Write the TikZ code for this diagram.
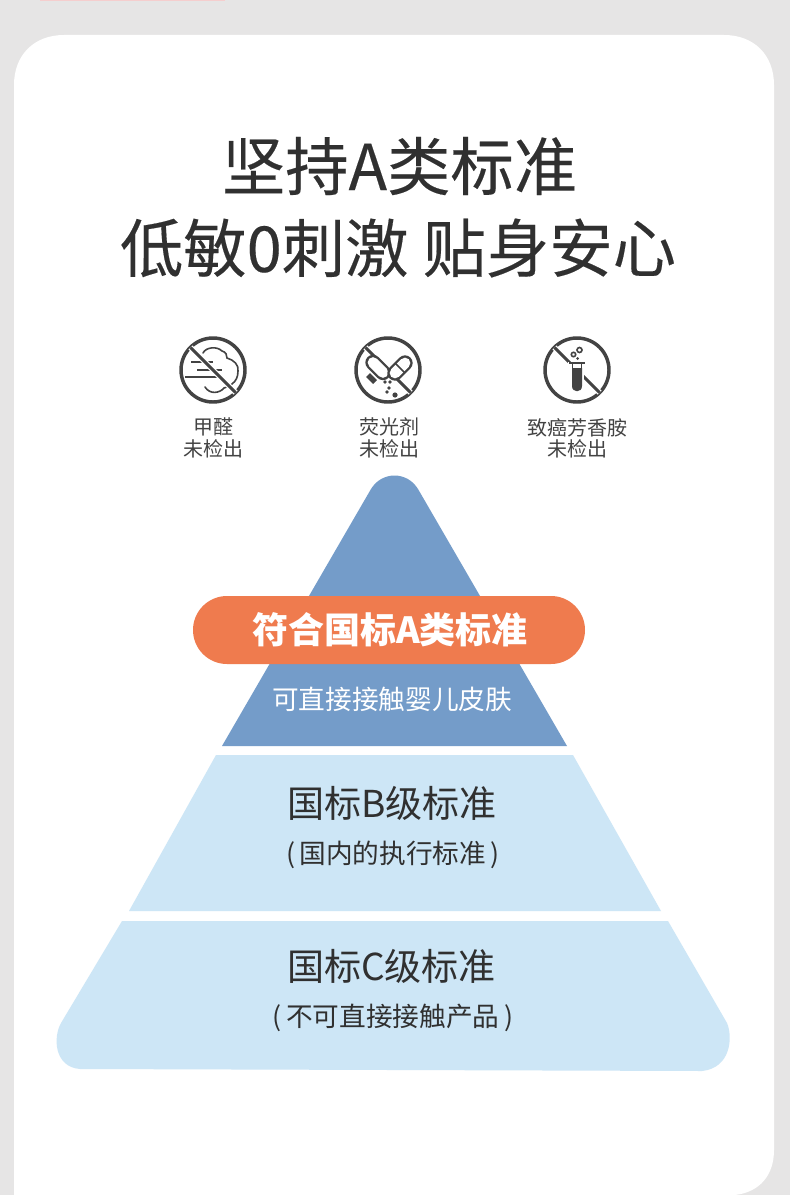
\documentclass[tikz,border=0pt]{standalone}
\usepackage{fontspec}
\setmainfont{Noto Sans CJK SC}
\definecolor{pagegray}{HTML}{E6E5E5}
\definecolor{inkgray}{HTML}{303030}
\definecolor{icongray}{HTML}{434343}
\definecolor{topblue}{HTML}{749CC9}
\definecolor{paleblue}{HTML}{CDE6F6}
\definecolor{pillorange}{HTML}{EF7B4E}
\tikzstyle{every node}=[inner sep=0pt,outer sep=0pt,text=inkgray,align=center]
\tikzstyle{headline}=[font=\fontsize{47.5}{50}\selectfont\addfontfeature{FakeBold=0.25}]
\tikzstyle{caption}=[font=\fontsize{15}{15}\selectfont,text=icongray]
\tikzstyle{tiertitle}=[font=\fontsize{27.8}{30}\selectfont]
\tikzstyle{tiernote}=[font=\fontsize{20}{22}\selectfont]
\tikzstyle{iconring}=[draw=icongray,line width=2.6pt,shape=circle,minimum size=48pt]
\tikzstyle{iconline}=[draw=icongray,line width=1.2pt]
\tikzstyle{iconslash}=[draw=icongray,line width=2.2pt,preaction={draw=white,line width=4pt}]

\begin{document}
\begin{tikzpicture}[x=0.75pt,y=-0.75pt]
	\fill[pagegray] (0,0) rectangle (790,1195);
	\fill[pink!60!pagegray] (40,0) rectangle (225,1.5);
	\fill[white] (14,1195) -- (14,85) .. controls (14,55) and (34,35) .. (64,35) -- (724,35) .. controls (754,35) and (774,55) .. (774,85) -- (774,1150) .. controls (774,1175) and (760,1192) .. (735,1195) -- cycle;

	\node (title1) [headline] at (399.5,166) {坚持A类标准};
	\node (title2) [headline] at (398,248) {低敏0刺激 贴身安心};

	\node (ring1) [iconring] at (213,370) {};
	\node (ring2) [iconring] at (388,370) {};
	\node (ring3) [iconring] at (577,370) {};

	\draw[iconline,line cap=round] (203,353) .. controls (206,347) and (217,346) .. (222,351) .. controls (226,352) and (227,355) .. (227,358) .. controls (234,360) and (239,365) .. (238,371) .. controls (238,377) and (236,381) .. (232,384) .. controls (229,387) and (226,387) .. (224,388) .. controls (220,393) and (210,395) .. (205,387);
	\draw[iconline] (191,362) -- (213,362) (197,370) -- (222,370) (185,377) -- (222,377);
	\draw[iconslash] (ring1.135) -- (ring1.-45);

	\draw[iconslash] (ring2.135) -- (ring2.-45);
	\draw[icongray,line width=11.5pt,line cap=round] (373,362.5) -- (383,372.5);
	\draw[white,line width=8pt,line cap=round] (373,362.5) -- (383,372.5);
	\draw[icongray,line width=11.5pt,line cap=round] (395,373) -- (405,363);
	\draw[white,line width=8pt,line cap=round] (395,373) -- (405,363);
	\draw[iconline] (395,363) -- (405,373);
	\draw[icongray,line width=4pt] (368,375) -- (375,382);
	\fill[icongray] (385,382) circle (1.8) (390,382) circle (1.8) (389,388) circle (1.8) (387,392) circle (1.8) (395,395) circle (2.6);

	\draw[iconslash] (ring3.135) -- (ring3.-45);
	\fill[white] (568,362) rectangle (584,392);
	\draw[iconline,line width=1.8pt] (569,363) -- (585,363);
	\draw[iconline] (572.5,363) -- (572.5,370);
	\draw[iconline] (581.5,363) -- (581.5,370);
	\fill[icongray] (572,368) -- (582,368) -- (582,386) .. controls (582,393) and (572,393) .. (572,386) -- cycle;
	\draw[iconline] (579.5,350) circle (2.5) (573.5,354.5) circle (2.2);
	\fill[icongray] (577.5,358.5) circle (1.5);

	\node (cap1) [caption] at (213,438) {甲醛\\[1pt]未检出};
	\node (cap2) [caption] at (389,438) {荧光剂\\[1pt]未检出};
	\node (cap3) [caption] at (577,438) {致癌芳香胺\\[1pt]未检出};

	\fill[topblue] (222,746) -- (371,489) .. controls (382,471) and (407,471) .. (418,489) -- (567,746) -- cycle;
	\fill[paleblue] (216,755) -- (573,755) -- (661,911) -- (129,911) -- cycle;
	\fill[paleblue] (122,921) -- (668,921) -- (727,1023) .. controls (733,1037) and (731,1068) .. (702,1071) -- (80,1069) .. controls (54,1067) and (53,1037) .. (61,1023) -- cycle;

	\node (pill) [fill=pillorange,rounded corners=25.5pt,minimum width=294pt,minimum height=51pt] at (389,630) {};
	\node (pilltext) [font=\fontsize{27}{30}\bfseries\selectfont,text=white] at (390,630) {符合国标A类标准};
	\node (topnote) [tiernote,text=white] at (392,699) {可直接接触婴儿皮肤};
	\node (midtitle) [tiertitle] at (392,803) {国标B级标准};
	\node (midnote) [tiernote] at (393,854.5) {(\,国内的执行标准\,)};
	\node (lowtitle) [tiertitle] at (391.5,966) {国标C级标准};
	\node (lownote) [tiernote] at (393,1017.5) {(\,不可直接接触产品\,)};
\end{tikzpicture}
\end{document}
